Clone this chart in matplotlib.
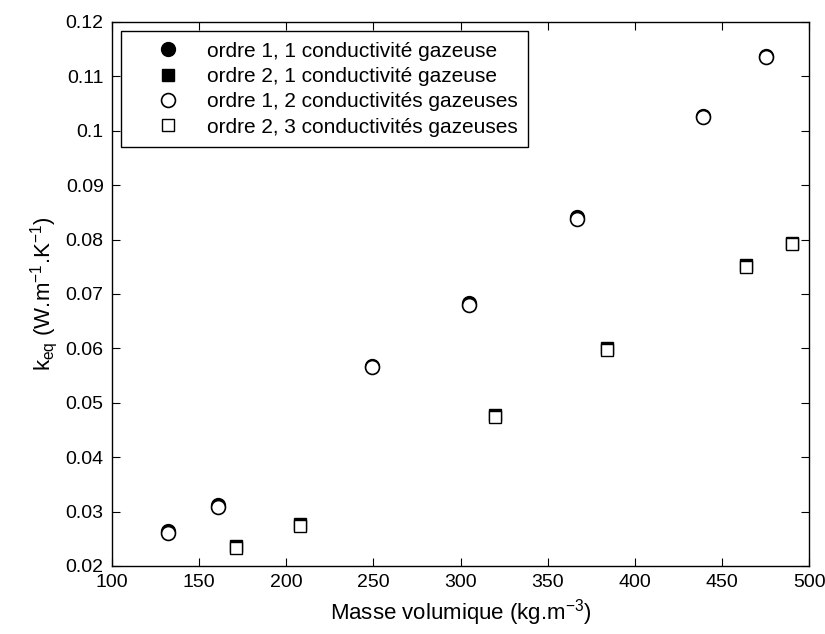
import matplotlib
matplotlib.use('Agg')
import matplotlib.pyplot as plt

plt.rcParams['font.family'] = ['Liberation Sans', 'DejaVu Sans']
plt.rcParams['mathtext.fontset'] = 'custom'
plt.rcParams['mathtext.rm'] = 'Liberation Sans'
plt.rcParams['mathtext.it'] = 'Liberation Sans'

# ordre 1 (cercles)
rho_o1 = [132, 161, 249, 305, 367, 439, 475]
k_o1_1g = [0.0265, 0.0312, 0.0568, 0.0683, 0.0841, 0.1028, 0.1138]
k_o1_2g = [0.0261, 0.0308, 0.0565, 0.0680, 0.0838, 0.1025, 0.1135]

# ordre 2 (carres)
rho_o2 = [171, 208, 320, 384, 464, 490]
k_o2_1g = [0.0237, 0.0278, 0.0477, 0.0600, 0.0753, 0.0794]
k_o2_3g = [0.0233, 0.0274, 0.0474, 0.0597, 0.0749, 0.0791]

fig = plt.figure(figsize=(8.25, 6.34), dpi=100)
ax = fig.add_axes([0.1358, 0.1073, 0.845, 0.858])

ax.plot(rho_o1, k_o1_1g, 'o', color='k', mfc='k', ms=10, label='ordre 1, 1 conductivité gazeuse')
ax.plot(rho_o2, k_o2_1g, 's', color='k', mfc='k', ms=8, label='ordre 2, 1 conductivité gazeuse')
ax.plot(rho_o1, k_o1_2g, 'o', color='k', mfc='w', ms=10, mew=1.2, label='ordre 1, 2 conductivités gazeuses')
ax.plot(rho_o2, k_o2_3g, 's', color='k', mfc='w', ms=8, mew=1.0, label='ordre 2, 3 conductivités gazeuses')

ax.set_xlim(100, 500)
ax.set_ylim(0.02, 0.12)
ax.set_xticks(range(100, 501, 50))
ax.set_yticks([0.02, 0.03, 0.04, 0.05, 0.06, 0.07, 0.08, 0.09, 0.1, 0.11, 0.12])
ax.set_yticklabels(['0.02', '0.03', '0.04', '0.05', '0.06', '0.07', '0.08', '0.09', '0.1', '0.11', '0.12'])
ax.tick_params(direction='in', top=True, right=True, length=6, labelsize=14, pad=6)
for s in ax.spines.values():
    s.set_linewidth(1.0)

ax.set_xlabel(r'Masse volumique (kg.m$^{-3}$)', fontsize=16)
ax.set_ylabel(r'k$_{\mathregular{eq}}$ (W.m$^{-1}$.K$^{-1}$)', fontsize=16)

leg = ax.legend(loc='upper left', fontsize=15, frameon=True, fancybox=False,
                edgecolor='k', framealpha=1, borderaxespad=0.45, borderpad=0.5,
                handletextpad=0.1, labelspacing=0.3, handlelength=3.5, numpoints=1)
leg.get_frame().set_linewidth(1.0)

fig.savefig('out.png', dpi=100)
